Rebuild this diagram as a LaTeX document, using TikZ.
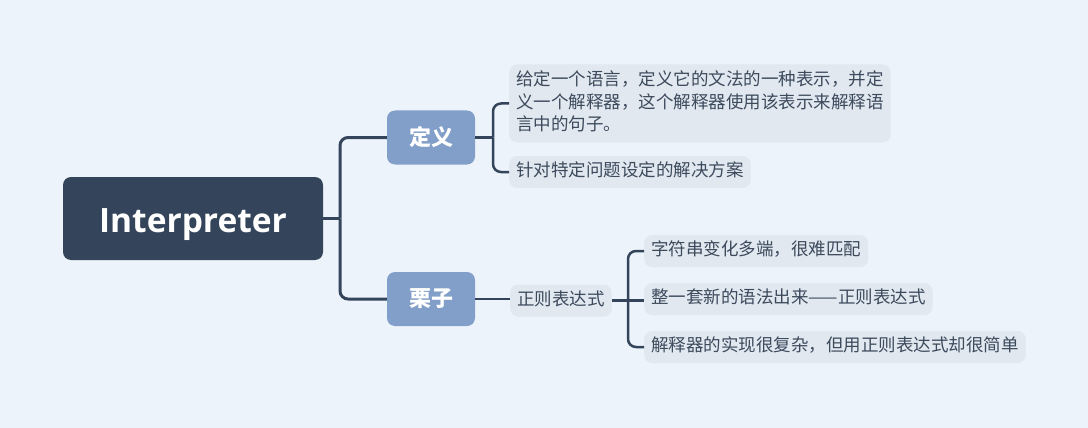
\documentclass[tikz,border=0pt]{standalone}
\usepackage{fontspec}
\setmainfont{Noto Sans CJK SC}
\newfontfamily\latinbold{Open Sans}
\usetikzlibrary{positioning}
\definecolor{bgblue}{HTML}{EDF3FA}
\definecolor{rootblue}{HTML}{34455B}
\definecolor{branchblue}{HTML}{819FC8}
\definecolor{leafgrey}{HTML}{E1E8F0}
\definecolor{inkgrey}{HTML}{3C4A5C}

\begin{document}
\begin{tikzpicture}[%
    x=1pt, y=-1pt,
    rounded corners=8pt,
    rootnode/.style={fill=rootblue, text=white, minimum width=260pt,
      minimum height=83pt, text height=27pt, text depth=0pt,
      font=\latinbold\bfseries\fontsize{33.5}{33.5}\selectfont},
    branchnode/.style={fill=branchblue, text=white, minimum width=88pt,
      minimum height=54pt, font=\bfseries\fontsize{22}{22}\selectfont},
    leafnode/.style={fill=leafgrey, text=inkgrey, anchor=west, align=left,
      inner xsep=7pt, inner ysep=7.5pt, text height=13pt, text depth=4pt,
      font=\fontsize{17.5}{23}\selectfont},
    link/.style={draw=rootblue, line width=3pt, rounded corners=8pt},
    sublink/.style={draw=rootblue, line width=2.5pt, rounded corners=8pt}
  ]
    \fill[bgblue, rounded corners=0pt] (0,0) rectangle (1088,428);
    \useasboundingbox (0,0) rectangle (1088,428);

    \node[rootnode] (root) at (193,218.5) {Interpreter};

    \node[branchnode] (def) at (431,137.5) {定义};
    \node[branchnode] (ex) at (431,299) {栗子};

    \node[leafnode, text height=59pt] (d1) at (509,103.5)
      {给定一个语言，定义它的文法的一种表示，并定\\义一个解释器，这个解释器使用该表示来解释语\\言中的句子。};
    \node[leafnode] (d2) at (509,172) {针对特定问题设定的解决方案};

    \node[leafnode] (re) at (510,300.5) {正则表达式};

    \node[leafnode] (r1) at (644,251) {字符串变化多端，很难匹配};
    \node[leafnode] (r2) at (644,299) {整一套新的语法出来——正则表达式};
    \node[leafnode] (r3) at (644,347) {解释器的实现很复杂，但用正则表达式却很简单};

    % root to branches
    \coordinate (j0) at (340,218.5);
    \draw[link] (root.east) -- (j0);
    \draw[link] (j0) |- (def.west);
    \draw[link] (j0) |- (ex.west);

    % definition
    \coordinate (j1) at (493,137.5);
    \draw[sublink] (def.east) -- (j1);
    \draw[sublink] (j1) |- (d1.west);
    \draw[sublink] (j1) |- (d2.west);

    % example
    \draw[sublink] (ex.east) -- (re.west |- ex.east);
    \coordinate (j2) at (628,300.5);
    \draw[sublink] (re.east) -- (j2);
    \draw[sublink] (j2) |- (r1.west);
    \draw[sublink] (j2) -- (r2.west |- j2);
    \draw[sublink] (j2) |- (r3.west);
\end{tikzpicture}
\end{document}
